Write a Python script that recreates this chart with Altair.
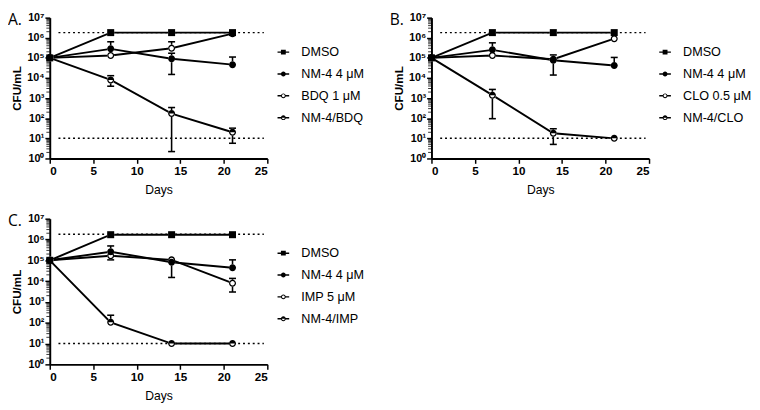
import altair as alt
import pandas as pd

days = [0, 7, 14, 21]
ref_levels = [1.8e6, 10]
y_major = [1, 10, 100, 1e3, 1e4, 1e5, 1e6, 1e7]
x_ticks = [0, 5, 10, 15, 20, 25]

# Panel A
a_series = ["DMSO", "NM-4 4 μM", "BDQ 1 μM", "NM-4/BDQ"]
a_dmso = [1.0e5, 1.8e6, 1.8e6, 1.8e6]
a_nm4 = [1.0e5, 2.8e5, 9.0e4, 4.6e4]
a_nm4_lo = [None, None, 1.5e4, None]
a_nm4_hi = [None, 6.3e5, 1.7e5, 1.1e5]
a_drug = [1.0e5, 1.3e5, 3.0e5, 1.6e6]
a_drug_lo = [None, None, None, None]
a_drug_hi = [None, None, 6.3e5, None]
a_combo = [1.0e5, 8.0e3, 1.7e2, 20]
a_combo_lo = [None, 3.9e3, 2.2, 5.7]
a_combo_hi = [None, 1.3e4, 3.4e2, 32]

# Panel B
b_series = ["DMSO", "NM-4 4 μM", "CLO 0.5 μM", "NM-4/CLO"]
b_dmso = [1.0e5, 1.8e6, 1.8e6, 1.8e6]
b_nm4 = [1.0e5, 2.5e5, 7.6e4, 4.2e4]
b_nm4_lo = [None, None, 1.4e4, None]
b_nm4_hi = [None, 5.6e5, 1.4e5, 1.05e5]
b_drug = [1.0e5, 1.3e5, 8.5e4, 9.0e5]
b_drug_lo = [None, None, None, None]
b_drug_hi = [None, None, None, None]
b_combo = [1.0e5, 1.4e3, 18, 10]
b_combo_lo = [None, 95, 5, None]
b_combo_hi = [None, 2.7e3, 30, None]

# Panel C
c_series = ["DMSO", "NM-4 4 μM", "IMP 5 μM", "NM-4/IMP"]
c_dmso = [1.0e5, 1.7e6, 1.7e6, 1.7e6]
c_nm4 = [1.0e5, 2.6e5, 8.0e4, 4.4e4]
c_nm4_lo = [None, None, 1.5e4, None]
c_nm4_hi = [None, 4.9e5, None, 1.05e5]
c_drug = [1.0e5, 1.65e5, 1.05e5, 8.0e3]
c_drug_lo = [None, 1.05e5, None, 3.0e3]
c_drug_hi = [None, None, None, 1.35e4]
c_combo = [1.0e5, 1.05e2, 10, 10]
c_combo_lo = [None, None, None, None]
c_combo_hi = [None, 2.3e2, None, None]

none4 = [None, None, None, None]

# marker shapes (custom paths in [-1,1] space), all filled black
SQ = "M-1,-1H1V1H-1Z"
CIRC = "M1,0A1,1 0 1,1 -1,0A1,1 0 1,1 1,0Z"
HOLE = "M0.64,0A0.64,0.64 0 1,0 -0.64,0A0.64,0.64 0 1,0 0.64,0Z"
HALF = "M-1,0A1,1 0 0,1 1,0Z"
marker_paths = [SQ, CIRC, CIRC + HOLE, CIRC + HOLE + HALF]

LFULL = "M-2.4,-0.3H2.4V0.3H-2.4Z"
LSPLIT = "M-2.4,-0.3H-0.8V0.3H-2.4Z M0.8,-0.3H2.4V0.3H0.8Z"
LHOLE = "M0.6,0A0.6,0.6 0 1,0 -0.6,0A0.6,0.6 0 1,0 0.6,0Z"
legend_paths = [LFULL + SQ, LFULL + CIRC, LSPLIT + CIRC + LHOLE, LSPLIT + CIRC + LHOLE + HALF]

FONT = "Liberation Sans"


def panel(letter, names, vals, los, his, w, h):
    rows, err, caps = [], [], []
    for name, v, lo, hi in zip(names, vals, los, his):
        for d, yv, l, u in zip(days, v, lo, hi):
            rows.append({"day": d, "value": yv, "series": name})
            if l is not None or u is not None:
                err.append({"day": d,
                            "lo": l if l is not None else yv,
                            "hi": u if u is not None else yv})
            for c in (l, u):
                if c is not None:
                    caps.append({"day": d, "cap": c})
    df = pd.DataFrame(rows)
    edf = pd.DataFrame(err)
    cdf = pd.DataFrame(caps)

    xs = alt.Scale(domain=[0, 25], nice=False, zero=False)
    ys = alt.Scale(type="log", domain=[1, 1e7], nice=False)
    xax = alt.Axis(values=x_ticks, title="Days", labelFontSize=12, titleFontWeight="normal",
                   titleFontSize=12.5, titlePadding=7, labelPadding=3)
    yax = alt.Axis(values=y_major, title="CFU/mL",
                   labelExpr="'10' + ['⁰','¹','²','³','⁴','⁵','⁶','⁷'][round(log(datum.value)/LN10)]",
                   labelFontSize=11, titleFontWeight="bold", titleFontSize=12,
                   titlePadding=3, labelPadding=1)

    minor = [m * 10 ** k for k in range(7) for m in range(2, 10)]

    def X(f):
        return alt.X(f, scale=xs, axis=xax)

    def Y(f):
        return alt.Y(f, scale=ys, axis=yax)

    lines = alt.Chart(df).mark_line(color="black", strokeWidth=2).encode(
        x=X("day:Q"), y=Y("value:Q"), detail="series:N",
    )
    minor_ticks = alt.Chart(pd.DataFrame({"m": minor})).mark_rule(color="black", strokeWidth=0.8).encode(
        y=Y("m:Q"), x=alt.value(-3.5), x2=alt.value(0),
    )
    dotted = alt.Chart(pd.DataFrame({"lvl": ref_levels})).mark_rule(
        color="black", strokeWidth=1.5, strokeDash=[2, 3]).encode(
        x=alt.XDatum(datum=1.0, type="quantitative", scale=xs, axis=xax),
        x2=alt.X2Datum(datum=24.6),
        y=Y("lvl:Q"),
    )
    ebars = alt.Chart(edf).mark_rule(color="black", strokeWidth=1.6).encode(
        x=X("day:Q"), y=Y("lo:Q"), y2="hi:Q",
    )
    ecaps = alt.Chart(cdf).transform_calculate(
        xa="datum.day - 0.4", xb="datum.day + 0.4"
    ).mark_rule(color="black", strokeWidth=1.6).encode(
        x=X("xa:Q"), x2="xb:Q", y=Y("cap:Q"),
    )
    under = alt.Chart(df).mark_point(filled=True, color="white", shape="circle", size=52,
                                     opacity=1, strokeWidth=0).encode(
        x=X("day:Q"), y=Y("value:Q"),
    )
    markers = alt.Chart(df).mark_point(filled=True, color="black", size=52, opacity=1,
                                       strokeWidth=0).encode(
        x=X("day:Q"), y=Y("value:Q"),
        shape=alt.Shape("series:N", scale=alt.Scale(domain=names, range=marker_paths), legend=None),
    )
    leg = alt.Chart(df).transform_filter("false").mark_point(
        filled=True, color="black", opacity=1, strokeWidth=0).encode(
        x=X("day:Q"), y=Y("value:Q"),
        shape=alt.Shape("series:N", scale=alt.Scale(domain=names, range=legend_paths),
                        legend=alt.Legend(title=None, orient="none", legendX=234, legendY=29,
                                          symbolSize=25, symbolFillColor="black",
                                          symbolStrokeWidth=0, symbolOpacity=1,
                                          labelFont=FONT, labelFontSize=13, labelColor="black",
                                          labelOffset=12, rowPadding=8.5, padding=0)),
    )
    lab = alt.Chart(pd.DataFrame({"t": [letter]})).mark_text(
        align="left", baseline="middle", font="Open Sans", fontSize=16, color="black").encode(
        x=alt.value(-43), y=alt.value(3), text="t:N")

    return alt.layer(lines, dotted, minor_ticks, ebars, ecaps, under, markers, leg, lab).resolve_scale(
        shape="independent").properties(width=w, height=h)


pA = panel("A.", a_series, [a_dmso, a_nm4, a_drug, a_combo],
           [none4, a_nm4_lo, a_drug_lo, a_combo_lo], [none4, a_nm4_hi, a_drug_hi, a_combo_hi], 224, 145)
pB = panel("B.", b_series, [b_dmso, b_nm4, b_drug, b_combo],
           [none4, b_nm4_lo, b_drug_lo, b_combo_lo], [none4, b_nm4_hi, b_drug_hi, b_combo_hi], 224, 145)
pC = panel("C.", c_series, [c_dmso, c_nm4, c_drug, c_combo],
           [none4, c_nm4_lo, c_drug_lo, c_combo_lo], [none4, c_nm4_hi, c_drug_hi, c_combo_hi], 224, 150)

chart = alt.vconcat(
    alt.hconcat(pA, pB, spacing=26),
    pC,
    spacing=17,
).properties(padding={"left": 0, "top": -2, "right": 0, "bottom": 0}).configure_view(
    stroke=None).configure_axis(
    domainColor="black", domainWidth=2, tickColor="black", tickWidth=1.5, tickSize=5,
    labelFont=FONT, labelFontWeight="bold", labelColor="black",
    titleFont=FONT, titleColor="black", grid=False,
)

chart.save("out.html", embed_options={"renderer": "svg", "actions": False})
